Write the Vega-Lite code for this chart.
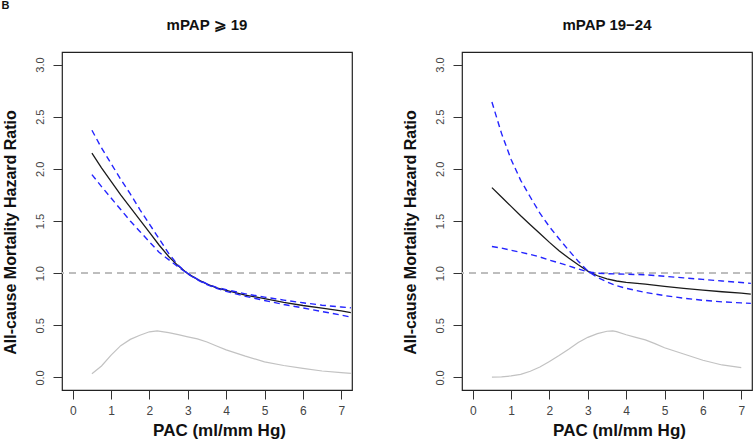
{
  "$schema": "https://vega.github.io/schema/vega-lite/v6.json",
  "autosize": {"type": "pad"},
  "padding": {"left": 1, "top": 0, "right": 2, "bottom": 2},
  "background": "white",
  "title": {"text": "B", "anchor": "start", "frame": "bounds", "fontSize": 11, "fontWeight": "bold", "color": "#111", "offset": 6},
  "spacing": 110,
  "bounds": "flush",
  "datasets": {
    "left": [
      {"s": "est", "x": 0.5, "y": 2.15}, {"s": "est", "x": 0.75, "y": 2.01}, {"s": "est", "x": 1.0, "y": 1.88}, {"s": "est", "x": 1.25, "y": 1.75}, {"s": "est", "x": 1.5, "y": 1.63}, {"s": "est", "x": 1.75, "y": 1.51}, {"s": "est", "x": 2.0, "y": 1.39}, {"s": "est", "x": 2.25, "y": 1.27}, {"s": "est", "x": 2.5, "y": 1.16}, {"s": "est", "x": 2.75, "y": 1.07}, {"s": "est", "x": 3.0, "y": 0.995}, {"s": "est", "x": 3.25, "y": 0.94}, {"s": "est", "x": 3.5, "y": 0.895}, {"s": "est", "x": 3.75, "y": 0.86}, {"s": "est", "x": 4.0, "y": 0.835}, {"s": "est", "x": 4.5, "y": 0.79}, {"s": "est", "x": 5.0, "y": 0.755}, {"s": "est", "x": 5.5, "y": 0.72}, {"s": "est", "x": 6.0, "y": 0.69}, {"s": "est", "x": 6.5, "y": 0.665}, {"s": "est", "x": 7.0, "y": 0.638}, {"s": "est", "x": 7.25, "y": 0.622},
      {"s": "upper", "x": 0.5, "y": 2.37}, {"s": "upper", "x": 0.75, "y": 2.2}, {"s": "upper", "x": 1.0, "y": 2.05}, {"s": "upper", "x": 1.25, "y": 1.9}, {"s": "upper", "x": 1.5, "y": 1.76}, {"s": "upper", "x": 1.75, "y": 1.61}, {"s": "upper", "x": 2.0, "y": 1.47}, {"s": "upper", "x": 2.25, "y": 1.33}, {"s": "upper", "x": 2.5, "y": 1.19}, {"s": "upper", "x": 2.75, "y": 1.075}, {"s": "upper", "x": 3.0, "y": 0.997}, {"s": "upper", "x": 3.25, "y": 0.942}, {"s": "upper", "x": 3.5, "y": 0.897}, {"s": "upper", "x": 3.75, "y": 0.864}, {"s": "upper", "x": 4.0, "y": 0.842}, {"s": "upper", "x": 4.5, "y": 0.802}, {"s": "upper", "x": 5.0, "y": 0.77}, {"s": "upper", "x": 5.5, "y": 0.742}, {"s": "upper", "x": 6.0, "y": 0.716}, {"s": "upper", "x": 6.5, "y": 0.693}, {"s": "upper", "x": 7.0, "y": 0.675}, {"s": "upper", "x": 7.25, "y": 0.668},
      {"s": "lower", "x": 0.5, "y": 1.945}, {"s": "lower", "x": 0.75, "y": 1.83}, {"s": "lower", "x": 1.0, "y": 1.72}, {"s": "lower", "x": 1.25, "y": 1.61}, {"s": "lower", "x": 1.5, "y": 1.5}, {"s": "lower", "x": 1.75, "y": 1.4}, {"s": "lower", "x": 2.0, "y": 1.3}, {"s": "lower", "x": 2.25, "y": 1.2}, {"s": "lower", "x": 2.5, "y": 1.13}, {"s": "lower", "x": 2.75, "y": 1.06}, {"s": "lower", "x": 3.0, "y": 0.993}, {"s": "lower", "x": 3.25, "y": 0.936}, {"s": "lower", "x": 3.5, "y": 0.89}, {"s": "lower", "x": 3.75, "y": 0.854}, {"s": "lower", "x": 4.0, "y": 0.826}, {"s": "lower", "x": 4.5, "y": 0.778}, {"s": "lower", "x": 5.0, "y": 0.738}, {"s": "lower", "x": 5.5, "y": 0.7}, {"s": "lower", "x": 6.0, "y": 0.667}, {"s": "lower", "x": 6.5, "y": 0.632}, {"s": "lower", "x": 7.0, "y": 0.598}, {"s": "lower", "x": 7.25, "y": 0.578},
      {"s": "density", "x": 0.5, "y": 0.035}, {"s": "density", "x": 0.75, "y": 0.11}, {"s": "density", "x": 1.0, "y": 0.215}, {"s": "density", "x": 1.25, "y": 0.305}, {"s": "density", "x": 1.5, "y": 0.365}, {"s": "density", "x": 1.75, "y": 0.405}, {"s": "density", "x": 2.0, "y": 0.438}, {"s": "density", "x": 2.2, "y": 0.447}, {"s": "density", "x": 2.5, "y": 0.43}, {"s": "density", "x": 2.75, "y": 0.41}, {"s": "density", "x": 3.0, "y": 0.39}, {"s": "density", "x": 3.25, "y": 0.37}, {"s": "density", "x": 3.5, "y": 0.34}, {"s": "density", "x": 3.75, "y": 0.302}, {"s": "density", "x": 4.0, "y": 0.265}, {"s": "density", "x": 4.5, "y": 0.205}, {"s": "density", "x": 5.0, "y": 0.15}, {"s": "density", "x": 5.5, "y": 0.115}, {"s": "density", "x": 6.0, "y": 0.087}, {"s": "density", "x": 6.5, "y": 0.062}, {"s": "density", "x": 7.0, "y": 0.047}, {"s": "density", "x": 7.25, "y": 0.04}
    ],
    "right": [
      {"s": "est", "x": 0.5, "y": 1.82}, {"s": "est", "x": 0.75, "y": 1.73}, {"s": "est", "x": 1.0, "y": 1.64}, {"s": "est", "x": 1.25, "y": 1.55}, {"s": "est", "x": 1.5, "y": 1.465}, {"s": "est", "x": 1.75, "y": 1.38}, {"s": "est", "x": 2.0, "y": 1.295}, {"s": "est", "x": 2.25, "y": 1.215}, {"s": "est", "x": 2.5, "y": 1.145}, {"s": "est", "x": 2.75, "y": 1.08}, {"s": "est", "x": 3.0, "y": 1.02}, {"s": "est", "x": 3.25, "y": 0.975}, {"s": "est", "x": 3.5, "y": 0.945}, {"s": "est", "x": 3.75, "y": 0.925}, {"s": "est", "x": 4.0, "y": 0.912}, {"s": "est", "x": 4.5, "y": 0.895}, {"s": "est", "x": 5.0, "y": 0.873}, {"s": "est", "x": 5.5, "y": 0.855}, {"s": "est", "x": 6.0, "y": 0.838}, {"s": "est", "x": 6.5, "y": 0.822}, {"s": "est", "x": 7.0, "y": 0.808}, {"s": "est", "x": 7.25, "y": 0.8},
      {"s": "steep", "x": 0.5, "y": 2.64}, {"s": "steep", "x": 0.75, "y": 2.34}, {"s": "steep", "x": 1.0, "y": 2.09}, {"s": "steep", "x": 1.25, "y": 1.89}, {"s": "steep", "x": 1.5, "y": 1.73}, {"s": "steep", "x": 1.75, "y": 1.575}, {"s": "steep", "x": 2.0, "y": 1.445}, {"s": "steep", "x": 2.25, "y": 1.33}, {"s": "steep", "x": 2.5, "y": 1.22}, {"s": "steep", "x": 2.75, "y": 1.115}, {"s": "steep", "x": 3.0, "y": 1.02}, {"s": "steep", "x": 3.25, "y": 0.96}, {"s": "steep", "x": 3.5, "y": 0.915}, {"s": "steep", "x": 3.75, "y": 0.88}, {"s": "steep", "x": 4.0, "y": 0.855}, {"s": "steep", "x": 4.5, "y": 0.815}, {"s": "steep", "x": 5.0, "y": 0.785}, {"s": "steep", "x": 5.5, "y": 0.76}, {"s": "steep", "x": 6.0, "y": 0.74}, {"s": "steep", "x": 6.5, "y": 0.725}, {"s": "steep", "x": 7.0, "y": 0.715}, {"s": "steep", "x": 7.25, "y": 0.71},
      {"s": "flat", "x": 0.5, "y": 1.255}, {"s": "flat", "x": 0.75, "y": 1.24}, {"s": "flat", "x": 1.0, "y": 1.22}, {"s": "flat", "x": 1.25, "y": 1.2}, {"s": "flat", "x": 1.5, "y": 1.18}, {"s": "flat", "x": 1.75, "y": 1.155}, {"s": "flat", "x": 2.0, "y": 1.125}, {"s": "flat", "x": 2.25, "y": 1.098}, {"s": "flat", "x": 2.5, "y": 1.07}, {"s": "flat", "x": 2.75, "y": 1.04}, {"s": "flat", "x": 3.0, "y": 1.012}, {"s": "flat", "x": 3.25, "y": 1.0}, {"s": "flat", "x": 3.5, "y": 0.995}, {"s": "flat", "x": 3.75, "y": 0.992}, {"s": "flat", "x": 4.0, "y": 0.99}, {"s": "flat", "x": 4.5, "y": 0.985}, {"s": "flat", "x": 5.0, "y": 0.97}, {"s": "flat", "x": 5.5, "y": 0.955}, {"s": "flat", "x": 6.0, "y": 0.94}, {"s": "flat", "x": 6.5, "y": 0.925}, {"s": "flat", "x": 7.0, "y": 0.91}, {"s": "flat", "x": 7.25, "y": 0.902},
      {"s": "density", "x": 0.5, "y": 0.003}, {"s": "density", "x": 0.75, "y": 0.006}, {"s": "density", "x": 1.0, "y": 0.015}, {"s": "density", "x": 1.25, "y": 0.03}, {"s": "density", "x": 1.5, "y": 0.06}, {"s": "density", "x": 1.75, "y": 0.1}, {"s": "density", "x": 2.0, "y": 0.153}, {"s": "density", "x": 2.25, "y": 0.21}, {"s": "density", "x": 2.5, "y": 0.27}, {"s": "density", "x": 2.75, "y": 0.335}, {"s": "density", "x": 3.0, "y": 0.385}, {"s": "density", "x": 3.25, "y": 0.42}, {"s": "density", "x": 3.5, "y": 0.443}, {"s": "density", "x": 3.65, "y": 0.447}, {"s": "density", "x": 3.75, "y": 0.44}, {"s": "density", "x": 4.0, "y": 0.41}, {"s": "density", "x": 4.25, "y": 0.385}, {"s": "density", "x": 4.5, "y": 0.36}, {"s": "density", "x": 4.75, "y": 0.325}, {"s": "density", "x": 5.0, "y": 0.285}, {"s": "density", "x": 5.5, "y": 0.225}, {"s": "density", "x": 6.0, "y": 0.165}, {"s": "density", "x": 6.5, "y": 0.12}, {"s": "density", "x": 7.0, "y": 0.095}
    ]
  },
  "hconcat": [
    {
      "width": 290, "height": 338,
      "title": {"text": "mPAP ⩾ 19"},
      "data": {"name": "left"},
      "layer": [
        {"mark": {"type": "rule", "color": "#bdbdbd", "strokeDash": [7, 5], "strokeWidth": 1.2},
         "encoding": {"y": {"datum": 1, "type": "quantitative", "scale": {"domain": [-0.12, 3.12], "nice": false, "zero": false}, "axis": {"values": [0, 0.5, 1, 1.5, 2, 2.5, 3], "format": ".1f", "title": "All-cause Mortality Hazard Ratio"}}}},
        {"transform": [{"filter": "datum.s == 'density'"}],
         "mark": {"type": "line", "color": "#c2c2c2", "strokeWidth": 1.2},
         "encoding": {"x": {"field": "x", "type": "quantitative", "scale": {"domain": [-0.28, 7.28], "nice": false, "zero": false}, "axis": {"values": [0, 1, 2, 3, 4, 5, 6, 7], "title": "PAC (ml/mm Hg)"}},
                      "y": {"field": "y", "type": "quantitative", "scale": {"domain": [-0.12, 3.12], "nice": false, "zero": false}}}},
        {"transform": [{"filter": "datum.s == 'est'"}],
         "mark": {"type": "line", "color": "#1a1a1a", "strokeWidth": 1.3},
         "encoding": {"x": {"field": "x", "type": "quantitative", "scale": {"domain": [-0.28, 7.28], "nice": false, "zero": false}},
                      "y": {"field": "y", "type": "quantitative", "scale": {"domain": [-0.12, 3.12], "nice": false, "zero": false}}}},
        {"transform": [{"filter": "datum.s == 'upper'"}],
         "mark": {"type": "line", "color": "#2424ff", "strokeWidth": 1.4, "strokeDash": [6, 4]},
         "encoding": {"x": {"field": "x", "type": "quantitative", "scale": {"domain": [-0.28, 7.28], "nice": false, "zero": false}},
                      "y": {"field": "y", "type": "quantitative", "scale": {"domain": [-0.12, 3.12], "nice": false, "zero": false}}}},
        {"transform": [{"filter": "datum.s == 'lower'"}],
         "mark": {"type": "line", "color": "#2424ff", "strokeWidth": 1.4, "strokeDash": [6, 4]},
         "encoding": {"x": {"field": "x", "type": "quantitative", "scale": {"domain": [-0.28, 7.28], "nice": false, "zero": false}},
                      "y": {"field": "y", "type": "quantitative", "scale": {"domain": [-0.12, 3.12], "nice": false, "zero": false}}}}
      ]
    },
    {
      "width": 290, "height": 338,
      "title": {"text": "mPAP 19−24"},
      "data": {"name": "right"},
      "layer": [
        {"mark": {"type": "rule", "color": "#bdbdbd", "strokeDash": [7, 5], "strokeWidth": 1.2},
         "encoding": {"y": {"datum": 1, "type": "quantitative", "scale": {"domain": [-0.12, 3.12], "nice": false, "zero": false}, "axis": {"values": [0, 0.5, 1, 1.5, 2, 2.5, 3], "format": ".1f", "title": "All-cause Mortality Hazard Ratio"}}}},
        {"transform": [{"filter": "datum.s == 'density'"}],
         "mark": {"type": "line", "color": "#c2c2c2", "strokeWidth": 1.2},
         "encoding": {"x": {"field": "x", "type": "quantitative", "scale": {"domain": [-0.28, 7.28], "nice": false, "zero": false}, "axis": {"values": [0, 1, 2, 3, 4, 5, 6, 7], "title": "PAC (ml/mm Hg)"}},
                      "y": {"field": "y", "type": "quantitative", "scale": {"domain": [-0.12, 3.12], "nice": false, "zero": false}}}},
        {"transform": [{"filter": "datum.s == 'est'"}],
         "mark": {"type": "line", "color": "#1a1a1a", "strokeWidth": 1.3},
         "encoding": {"x": {"field": "x", "type": "quantitative", "scale": {"domain": [-0.28, 7.28], "nice": false, "zero": false}},
                      "y": {"field": "y", "type": "quantitative", "scale": {"domain": [-0.12, 3.12], "nice": false, "zero": false}}}},
        {"transform": [{"filter": "datum.s == 'steep'"}],
         "mark": {"type": "line", "color": "#2424ff", "strokeWidth": 1.4, "strokeDash": [6, 4]},
         "encoding": {"x": {"field": "x", "type": "quantitative", "scale": {"domain": [-0.28, 7.28], "nice": false, "zero": false}},
                      "y": {"field": "y", "type": "quantitative", "scale": {"domain": [-0.12, 3.12], "nice": false, "zero": false}}}},
        {"transform": [{"filter": "datum.s == 'flat'"}],
         "mark": {"type": "line", "color": "#2424ff", "strokeWidth": 1.4, "strokeDash": [6, 4]},
         "encoding": {"x": {"field": "x", "type": "quantitative", "scale": {"domain": [-0.28, 7.28], "nice": false, "zero": false}},
                      "y": {"field": "y", "type": "quantitative", "scale": {"domain": [-0.12, 3.12], "nice": false, "zero": false}}}}
      ]
    }
  ],
  "config": {
    "font": "Liberation Sans",
    "view": {"stroke": "#222", "strokeWidth": 1.2},
    "axis": {"grid": false, "domain": false, "tickColor": "#333", "tickSize": 9, "tickWidth": 1, "labelColor": "#444", "labelFontSize": 11, "titleFontSize": 16, "titleFontWeight": "bold", "titleColor": "#111"},
    "axisY": {"labelAngle": -90, "labelAlign": "center", "labelBaseline": "bottom", "labelPadding": 8, "titlePadding": 16, "titleY": 180},
    "axisX": {"labelPadding": 6, "labelFontSize": 12, "titlePadding": 6, "titleFontSize": 17, "titleX": 157},
    "title": {"fontSize": 15, "fontWeight": "bold", "color": "#111", "offset": 19, "anchor": "middle"}
  }
}
